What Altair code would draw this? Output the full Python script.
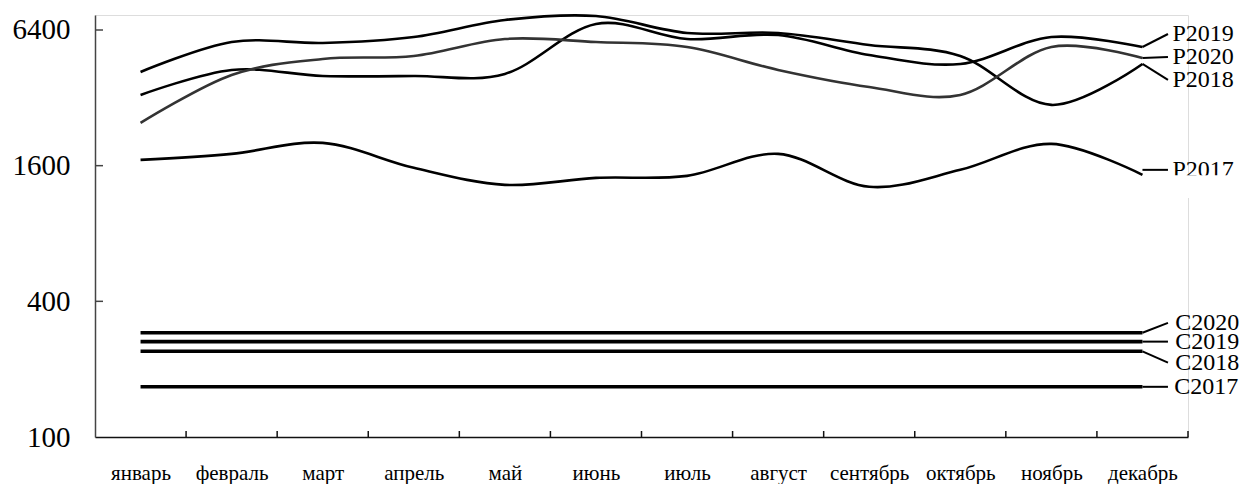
import altair as alt
import pandas as pd

months = ["январь", "февраль", "март", "апрель", "май", "июнь",
          "июль", "август", "сентябрь", "октябрь", "ноябрь", "декабрь"]

p2017 = [1698, 1805, 2019, 1565, 1315, 1412, 1442, 1805, 1289, 1533, 1999, 1457]
p2018 = [4168, 5662, 5604, 5958, 7088, 7383, 6207, 6207, 5491, 4908, 2977, 4523]
p2019 = [3296, 4255, 4002, 4002, 4085, 6804, 5838, 6081, 4959, 4523, 5958, 5380]
p2020 = [2477, 4043, 4760, 4908, 5838, 5662, 5380, 4255, 3576, 3296, 5380, 4809]
c2017 = [167, 167, 167, 167, 167, 167, 167, 167, 167, 167, 167, 167]
c2018 = [240, 240, 240, 240, 240, 240, 240, 240, 240, 240, 240, 240]
c2019 = [265, 265, 265, 265, 265, 265, 265, 265, 265, 265, 265, 265]
c2020 = [290, 290, 290, 290, 290, 290, 290, 290, 290, 290, 290, 290]

y_ticks = [100, 400, 1600, 6400]

label_names = ["P2019", "P2020", "P2018", "P2017", "C2020", "C2019", "C2018", "C2017"]
label_values = [6144, 4858, 3842, 1533, 321, 265, 214, 167]
label_x = [11.33, 11.33, 11.33, 11.33, 11.36, 11.36, 11.36, 11.35]

p_series = {"P2017": p2017, "P2018": p2018, "P2019": p2019, "P2020": p2020}
c_series = {"C2017": c2017, "C2018": c2018, "C2019": c2019, "C2020": c2020}
all_series = {**p_series, **c_series}

def long_df(series):
    rows = []
    for name, vals in series.items():
        for i, v in enumerate(vals):
            rows.append({"series": name, "idx": i, "value": v})
    return pd.DataFrame(rows)

df_p = long_df(p_series)
df_c = long_df(c_series)

# leader lines: from december point to label anchor (P2017's leader is level with its label)
lead_rows = []
for name, lv in zip(label_names, label_values):
    start = lv if name == "P2017" else all_series[name][-1]
    lead_rows.append({"series": name, "idx": 11, "value": start})
    lead_rows.append({"series": name, "idx": 11.28, "value": lv})
df_lead = pd.DataFrame(lead_rows)
df_lab = pd.DataFrame({"series": label_names, "idx": label_x, "value": label_values})

df_xt = pd.DataFrame({"idx": [i + 0.5 for i in range(len(months))]})
df_yt = pd.DataFrame({"value": y_ticks[1:]})
df_mask = pd.DataFrame({"idx": [11.3], "idx2": [12.5], "value": [1449], "value2": [1150]})

W, H = 1093, 422
FONT = "Liberation Serif"

xscale = alt.Scale(domain=[-0.5, 11.5], nice=False, zero=False)
yscale = alt.Scale(type="log", base=4, domain=[100, 7460], nice=False)

label_expr = "[" + ",".join("'" + m + "'" for m in months) + "][datum.value]"

x_axis = alt.Axis(values=list(range(len(months))), labelExpr=label_expr, tickSize=0,
                  grid=False, domainColor="#111", domainWidth=1.5, labelFont=FONT,
                  labelFontSize=21, labelColor="black", labelPadding=25, title=None)
y_axis = alt.Axis(values=y_ticks, format="d", tickSize=0, grid=False,
                  domainColor="#444", domainWidth=1.5, labelFont=FONT,
                  labelFontSize=29, labelColor="black", labelPadding=25, title=None)

p_lines = alt.Chart(df_p).mark_line(interpolate="cardinal", strokeWidth=2.6).encode(
    x=alt.X("idx:Q", scale=xscale, axis=x_axis),
    y=alt.Y("value:Q", scale=yscale, axis=y_axis),
    color=alt.Color("series:N", scale=alt.Scale(domain=["P2017", "P2018", "P2019", "P2020"],
                                                range=["#000", "#000", "#000", "#333"]), legend=None),
    detail="series:N",
)

c_lines = alt.Chart(df_c).mark_line(strokeWidth=3.6, color="black").encode(
    x=alt.X("idx:Q", scale=xscale),
    y=alt.Y("value:Q", scale=yscale),
    detail="series:N",
)

leaders = alt.Chart(df_lead).mark_line(strokeWidth=2, color="black").encode(
    x=alt.X("idx:Q", scale=xscale),
    y=alt.Y("value:Q", scale=yscale),
    detail="series:N",
)

labels = alt.Chart(df_lab).mark_text(align="left", baseline="middle", font=FONT,
                                     fontSize=24, color="black").encode(
    x=alt.X("idx:Q", scale=xscale),
    y=alt.Y("value:Q", scale=yscale),
    text="series:N",
)

mask = alt.Chart(df_mask).mark_rect(color="white").encode(
    x=alt.X("idx:Q", scale=xscale), x2="idx2:Q",
    y=alt.Y("value:Q", scale=yscale), y2="value2:Q",
)

x_ticks = alt.Chart(df_xt).mark_rule(color="#111", strokeWidth=1.5).encode(
    x=alt.X("idx:Q", scale=xscale),
    y=alt.value(H), y2=alt.value(H - 6),
)

y_tick_marks = alt.Chart(df_yt).mark_rule(color="#444", strokeWidth=1.5).encode(
    y=alt.Y("value:Q", scale=yscale),
    x=alt.value(0), x2=alt.value(8),
)

chart = alt.layer(p_lines, c_lines, leaders, labels, mask, x_ticks, y_tick_marks).properties(
    width=W, height=H,
    autosize=alt.AutoSizeParams(type="none"),
    padding={"left": 87, "top": 7, "right": 51, "bottom": 54},
).configure_view(stroke=None).configure(background="white")

chart.save("out.html", embed_options={"renderer": "svg", "actions": False})
